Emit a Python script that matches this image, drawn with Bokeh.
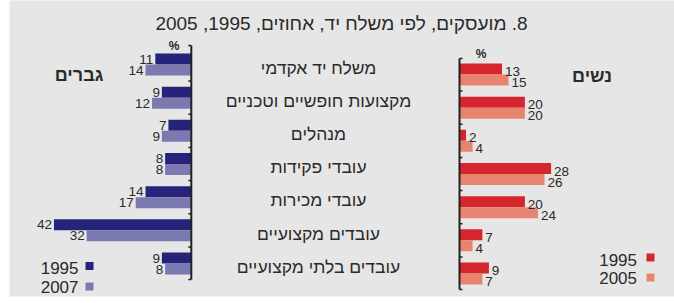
from bokeh.plotting import figure
from bokeh.models import Range1d
from bokeh.core.properties import value
from bokeh.embed import file_html
from bokeh.resources import INLINE

# ---------------- data ----------------
categories = ["משלח יד אקדמי", "מקצועות חופשיים וטכניים", "מנהלים", "עובדי פקידות",
              "עובדי מכירות", "עובדים מקצועיים", "עובדים בלתי מקצועיים"]
men_1995 = [11, 9, 7, 8, 14, 42, 9]
men_2007 = [14, 12, 9, 8, 17, 32, 8]
women_1995 = [13, 20, 2, 28, 20, 7, 9]
women_2005 = [15, 20, 4, 26, 24, 4, 7]
title_text = "8. מועסקים, לפי משלח יד, אחוזים, 1995, 2005"
men_label = "גברים"
women_label = "נשים"
men_years = ["1995", "2007"]
women_years = ["1995", "2005"]

# ---------------- styling / layout ----------------
W, H = 674, 303
FL, FT, FR, FB = 9, 0, 674, 296   # gray frame in page px
BG = "#e6e6e6"
C_M95, C_M07 = "#25237a", "#7c78b0"
C_W95, C_W05 = "#d5252d", "#e8836f"
TXT = "#2a2a2a"
NUM_FONT = "Liberation Sans Narrow, Liberation Sans, sans-serif"
HEB_FONT = "Liberation Sans, DejaVu Sans, sans-serif"

S = 3.27          # px per percent
U = 33.17         # px per category
MEN_AXIS_PX = 190.8
WOMEN_AXIS_PX = 459.0
FIRST_CENTER_PX = 64.0


def X(px):  # page px -> data x
    return (px - MEN_AXIS_PX) / S


def Y(py):  # page px -> data y
    return (py - FIRST_CENTER_PX) / U


WA = X(WOMEN_AXIS_PX)
BH = 11 / U       # bar thickness
WOFF = 10 / U     # women vertical offset

p = figure(width=W, height=H, output_backend="svg", toolbar_location=None,
           x_range=Range1d(X(FL), X(FR)), y_range=Range1d(Y(FB), Y(FT)),
           background_fill_color=BG, border_fill_color="white",
           min_border_left=FL, min_border_top=FT, min_border_right=W - FR,
           min_border_bottom=H - FB, outline_line_color=None)
p.axis.visible = False
p.grid.visible = False

n = len(categories)
idx = list(range(n))

# men bars (extend left of axis at 0)
p.hbar(y=[i - BH / 2 for i in idx], left=[-v for v in men_1995], right=0,
       height=BH, fill_color=C_M95, line_color=None)
p.hbar(y=[i + BH / 2 for i in idx], left=[-v for v in men_2007], right=0,
       height=BH, fill_color=C_M07, line_color=None)
# women bars (extend right of women axis)
p.hbar(y=[i + WOFF - BH / 2 for i in idx], left=WA, right=[WA + v for v in women_1995],
       height=BH, fill_color=C_W95, line_color=None)
p.hbar(y=[i + WOFF + BH / 2 for i in idx], left=WA, right=[WA + v for v in women_2005],
       height=BH, fill_color=C_W05, line_color=None)

# value labels
num_style = dict(text_font=value(NUM_FONT), text_font_size="13.5px", text_color=TXT,
                 text_baseline="middle")
p.text(x=[-v - 0.6 for v in men_1995], y=[i - BH / 2 for i in idx],
       text=[str(v) for v in men_1995], text_align="right", **num_style)
p.text(x=[-v - 0.6 for v in men_2007], y=[i + BH / 2 for i in idx],
       text=[str(v) for v in men_2007], text_align="right", **num_style)
p.text(x=[WA + v + 0.9 for v in women_1995], y=[i + WOFF - BH / 2 + 0.08 for i in idx],
       text=[str(v) for v in women_1995], text_align="left", **num_style)
p.text(x=[WA + v + 0.9 for v in women_2005], y=[i + WOFF + BH / 2 + 0.08 for i in idx],
       text=[str(v) for v in women_2005], text_align="left", **num_style)

# category labels
p.text(x=[X(318)] * n, y=[i + 0.1 for i in idx], text=categories,
       text_font=value(HEB_FONT), text_font_size="17.5px", text_color=TXT,
       text_align="center", text_baseline="middle")

# axis lines with small ticks
AX_W = 2
m_top, m_bot = Y(45), Y(279)
p.segment(x0=[0], y0=[m_top], x1=[0], y1=[m_bot], line_color="#222222", line_width=AX_W)
tick = 3 / S
m_ticks = [m_top] + [i + 0.5 for i in idx[:-1]] + [m_bot]
p.segment(x0=[-tick] * len(m_ticks), y0=m_ticks, x1=[0] * len(m_ticks), y1=m_ticks,
          line_color="#222222", line_width=1.5)
w_top, w_bot = Y(58), Y(289)
p.segment(x0=[WA], y0=[w_top], x1=[WA], y1=[w_bot], line_color="#222222", line_width=AX_W)
w_ticks = [w_top] + [i + WOFF + 0.5 for i in idx[:-1]] + [w_bot]
p.segment(x0=[WA] * len(w_ticks), y0=w_ticks, x1=[WA + tick] * len(w_ticks), y1=w_ticks,
          line_color="#222222", line_width=1.5)

# percent signs
p.text(x=[X(173.5), X(480.5)], y=[Y(45.5), Y(53)], text=["%", "%"],
       text_font=value(NUM_FONT), text_font_size="12px", text_font_style="bold",
       text_color=TXT, text_align="center", text_baseline="middle")

# title
p.text(x=[X(341)], y=[Y(22.5)], text=["\u202b" + title_text + "\u202c"],
       text_font=value(HEB_FONT), text_font_size="19px", text_color=TXT,
       text_align="center", text_baseline="middle")

# panel labels
p.text(x=[X(78.5), X(591.5)], y=[Y(74.5), Y(75)], text=[men_label, women_label],
       text_font=value(HEB_FONT), text_font_size="18px", text_font_style="bold",
       text_color=TXT, text_align="center", text_baseline="middle")

# legends
p.text(x=[X(78)] * 2, y=[Y(267.5), Y(286.5)], text=men_years,
       text_font=value(NUM_FONT), text_font_size="17px", text_color=TXT,
       text_align="right", text_baseline="middle")
p.scatter(x=[X(89)] * 2, y=[Y(265.5), Y(286)], marker="square", size=8,
          fill_color=[C_M95, C_M07], line_color=None)
p.text(x=[X(636.5)] * 2, y=[Y(259), Y(277.5)], text=women_years,
       text_font=value(NUM_FONT), text_font_size="17px", text_color=TXT,
       text_align="right", text_baseline="middle")
p.scatter(x=[X(650)] * 2, y=[Y(257), Y(277)], marker="square", size=8,
          fill_color=[C_W95, C_W05], line_color=None)

open("out.html", "w").write(file_html(p, INLINE))
